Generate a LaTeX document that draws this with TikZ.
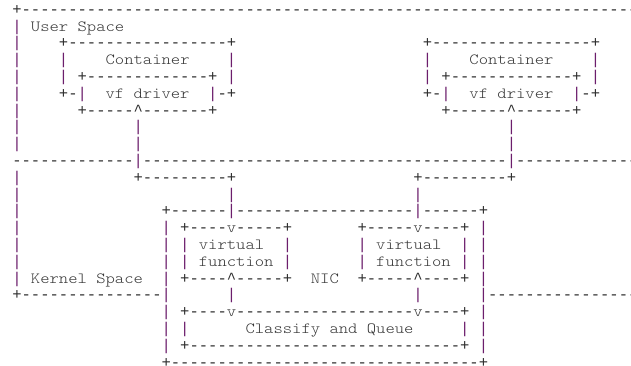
\documentclass[tikz,border=0pt]{standalone}
\usepackage{fontspec}
\newfontfamily\asc{Liberation Mono}
\newfontfamily\asl{lmmonolt10-regular.otf}[FakeStretch=1.143]
\definecolor{barc}{RGB}{108,30,108}
\definecolor{inkc}{RGB}{45,45,45}
\definecolor{txtc}{RGB}{55,55,55}
\ExplSyntaxOn
\NewDocumentCommand\dashrun{m}{\prg_replicate:nn{#1}{\hbox{-}}}
\ExplSyntaxOff
\tikzset{
  glyph/.style={inner sep=0pt, outer sep=0pt, anchor=base west,
    font=\asc\fontsize{15.55}{16.8}\selectfont, text=inkc},
  barglyph/.style={glyph, text=barc},
  lbl/.style={glyph, font=\asl\fontsize{15.55}{16.8}\selectfont, text=txtc},
}
% row, col
\newcommand\Pl[2]{\node[glyph] (p-#1-#2) at ({12.3+9.33*#2},{14.3+16.8*#1}) {+};}
\newcommand\Br[2]{\node[barglyph] (b-#1-#2) at ({12.3+9.33*#2},{14.3+16.8*#1}) {|};}
\newcommand\Ca[2]{\node[glyph] (c-#1-#2) at ({12.3+9.33*#2},{14.3+16.8*#1}) {\textasciicircum};}
\newcommand\Vv[2]{\node[lbl, text=inkc] (v-#1-#2) at ({12.3+9.33*#2},{14.3+16.8*#1}) {v};}
% row, from col, to col
\newcommand\Dr[3]{\node[glyph] (d-#1-#2) at ({12.3+9.33*#2},{14.3+16.8*#1}) {\dashrun{#3-#2+1}};}
% row, col, text
\newcommand\Tx[3]{\node[lbl] (t-#1-#2) at ({12.3+9.33*#2},{14.3+16.8*#1}) {#3};}
\begin{document}
\begin{tikzpicture}[x=1pt,y=-1pt]
\fill[white] (0,0) rectangle (631,366);
\useasboundingbox (0,0) rectangle (631,366);
\clip (0,0) rectangle (631,366);
% plus signs
\foreach \r/\c in {0/0,2/5,2/23,2/44,2/62,4/7,4/21,4/46,4/60,5/5,5/23,5/44,5/62,
  6/7,6/21,6/46,6/60,10/13,10/23,10/43,10/53,12/16,12/50,13/18,13/29,13/37,13/48,
  16/18,16/29,16/37,16/48,17/0,18/18,18/48,20/18,20/48,21/16,21/50} {\Pl{\r}{\c}}
% dash runs
\foreach \r/\a/\b in {0/1/66,2/6/22,2/45/61,4/8/20,4/47/59,5/6/6,5/22/22,5/45/45,5/61/61,
  6/8/12,6/14/20,6/47/52,6/54/59,9/0/12,9/14/52,9/54/66,10/14/22,10/44/52,
  12/17/22,12/24/42,12/44/49,13/19/22,13/24/28,13/38/42,13/44/47,
  16/19/22,16/24/28,16/38/42,16/44/47,17/1/15,17/51/66,
  18/19/22,18/24/42,18/44/47,20/19/47,21/17/49} {\Dr{\r}{\a}{\b}}
% vertical bars
\foreach \r/\c in {1/0,2/0,3/0,4/0,5/0,6/0,7/0,8/0,10/0,11/0,12/0,13/0,14/0,15/0,16/0,
  3/5,4/5,3/23,4/23,3/44,4/44,3/62,4/62,
  5/7,5/21,5/46,5/60,
  7/13,8/13,9/13,7/53,8/53,9/53,
  11/23,12/23,17/23,11/43,12/43,17/43,
  13/16,14/16,15/16,16/16,17/16,18/16,19/16,20/16,
  13/50,14/50,15/50,16/50,17/50,18/50,19/50,20/50,
  14/18,15/18,19/18,14/29,15/29,14/37,15/37,14/48,15/48,19/48} {\Br{\r}{\c}}
% arrow heads
\Ca{6}{13}\Ca{6}{53}\Ca{16}{23}\Ca{16}{43}
\Vv{13}{23}\Vv{13}{43}\Vv{18}{23}\Vv{18}{43}
% labels
\Tx{1}{2}{User Space}
\Tx{3}{10}{Container}
\Tx{3}{49}{Container}
\Tx{5}{10}{vf driver}
\Tx{5}{49}{vf driver}
\Tx{14}{20}{virtual}
\Tx{14}{39}{virtual}
\Tx{15}{20}{function}
\Tx{15}{39}{function}
\Tx{16}{2}{Kernel Space}
\Tx{16}{32}{NIC}
\Tx{19}{25}{Classify and Queue}
\end{tikzpicture}
\end{document}
